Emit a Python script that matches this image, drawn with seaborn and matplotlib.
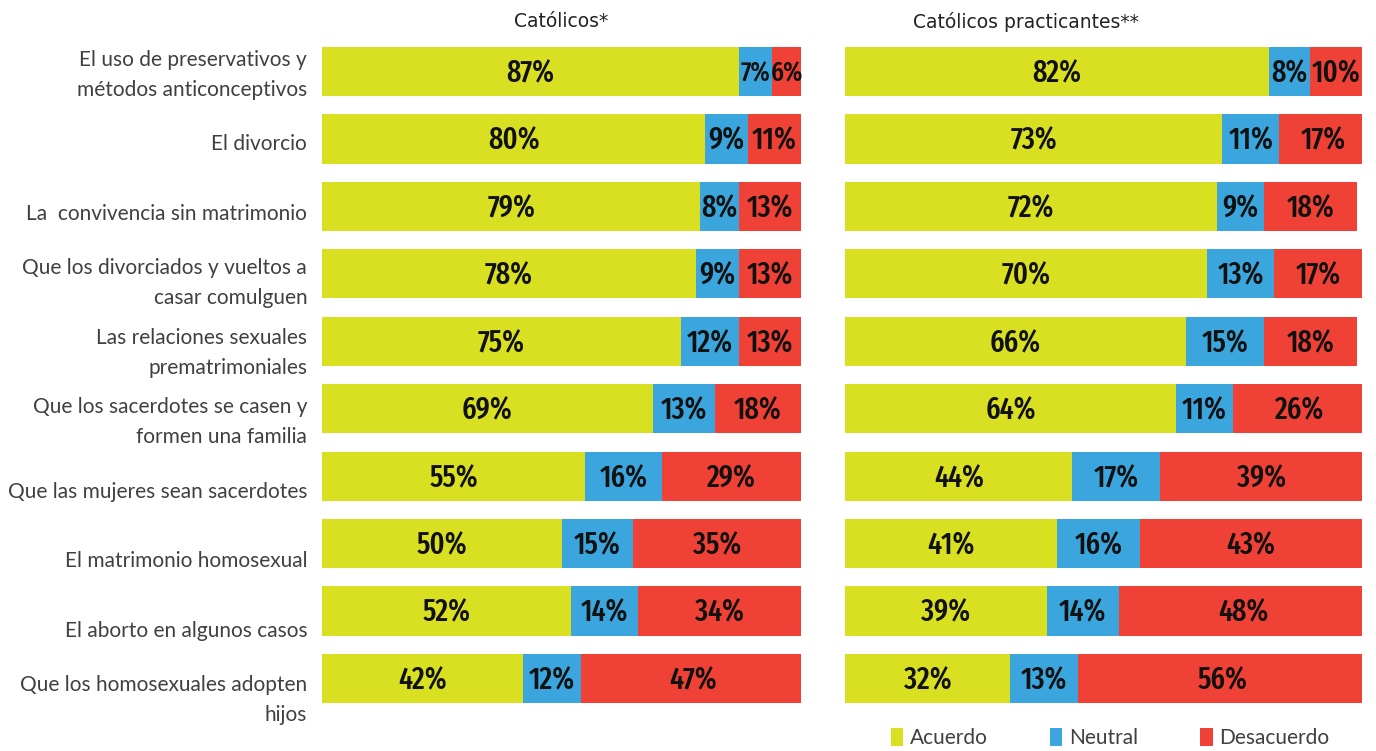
import numpy as np
import pandas as pd
import matplotlib
matplotlib.use("Agg")
import matplotlib.pyplot as plt
import seaborn as sns
from matplotlib.patches import Patch

# ---------- data ----------
temas = [
    "El uso de preservativos y\nmétodos anticonceptivos",
    "El divorcio",
    "La  convivencia sin matrimonio",
    "Que los divorciados y vueltos a\ncasar comulguen",
    "Las relaciones sexuales\nprematrimoniales",
    "Que los sacerdotes se casen y\nformen una familia",
    "Que las mujeres sean sacerdotes",
    "El matrimonio homosexual",
    "El aborto en algunos casos",
    "Que los homosexuales adopten\nhijos",
]

catolicos_acuerdo = [87, 80, 79, 78, 75, 69, 55, 50, 52, 42]
catolicos_neutral = [7, 9, 8, 9, 12, 13, 16, 15, 14, 12]
catolicos_desacuerdo = [6, 11, 13, 13, 13, 18, 29, 35, 34, 47]

practicantes_acuerdo = [82, 73, 72, 70, 66, 64, 44, 41, 39, 32]
practicantes_neutral = [8, 11, 9, 13, 15, 11, 17, 16, 14, 13]
practicantes_desacuerdo = [10, 17, 18, 17, 18, 26, 39, 43, 48, 56]

series_names = ["Acuerdo", "Neutral", "Desacuerdo"]
colores = ["#d8e021", "#3aa6dd", "#ef4135"]

sns.set_theme(style="white")
plt.rcParams["font.family"] = ["Lato", "DejaVu Sans"]

fig = plt.figure(figsize=(13.76, 7.51), dpi=100)
ax_l = fig.add_axes([322 / 1376, 0.0517, 479 / 1376, 0.898])
ax_r = fig.add_axes([845 / 1376, 0.0517, 517 / 1376, 0.898])


def stacked(ax, acuerdo, neutral, desacuerdo):
    df = pd.DataFrame({"tema": range(len(temas)),
                       "Acuerdo": acuerdo, "Neutral": neutral, "Desacuerdo": desacuerdo})
    df["c1"] = df["Acuerdo"]
    df["c2"] = df["c1"] + df["Neutral"]
    df["c3"] = df["c2"] + df["Desacuerdo"]
    # draw from total down so each segment sits on top
    for col, color in zip(["c3", "c2", "c1"], colores[::-1]):
        sns.barplot(data=df, x=col, y="tema", orient="h", color=color,
                    width=0.73, saturation=1, ax=ax, linewidth=0)
    # value labels (a bit smaller in the tiny segments so they don't collide)
    for i, row in df.iterrows():
        starts = [0, row["c1"], row["c2"]]
        for s, v in zip(starts, [row["Acuerdo"], row["Neutral"], row["Desacuerdo"]]):
            ax.text(s + v / 2, i + 0.03, f"{v}%", ha="center", va="center",
                    fontsize=22 if v >= 8 else 19.5, fontweight=500, color="#111111",
                    family=["Fira Sans Extra Condensed", "DejaVu Sans"])
    ax.set_xlim(0, 100)
    ax.set_ylim(9.5, -0.5)
    ax.set_xlabel("")
    ax.set_ylabel("")
    ax.set_xticks([])
    ax.set_yticks([])
    sns.despine(ax=ax, left=True, bottom=True)


stacked(ax_l, catolicos_acuerdo, catolicos_neutral, catolicos_desacuerdo)
stacked(ax_r, practicantes_acuerdo, practicantes_neutral, practicantes_desacuerdo)

# row labels, drifting slightly downward like the original
trans = matplotlib.transforms.blended_transform_factory(ax_l.transAxes, ax_l.transData)
for i, t in enumerate(temas):
    ax_l.text(-0.031, i * 1.03 + 0.05, t, transform=trans, ha="right", va="center",
              fontsize=15, color="#404040", linespacing=1.6)

fig.text(561 / 1376, 0.971, "Católicos*", ha="center", va="center",
         fontsize=13.5, color="#222222", family="DejaVu Sans")
fig.text(1026 / 1376, 0.971, "Católicos practicantes**", ha="center", va="center",
         fontsize=13.5, color="#222222", family="DejaVu Sans")

handles = [Patch(facecolor=c, edgecolor="none") for c in colores]
leg = fig.legend(handles, series_names, loc="center", bbox_to_anchor=(1110 / 1376, 0.017),
                 ncol=3, frameon=False, fontsize=15, handlelength=0.6, handleheight=0.9,
                 handletextpad=0.3, columnspacing=3.0)
for txt in leg.get_texts():
    txt.set_color("#404040")

fig.savefig("out.png", dpi=100)
